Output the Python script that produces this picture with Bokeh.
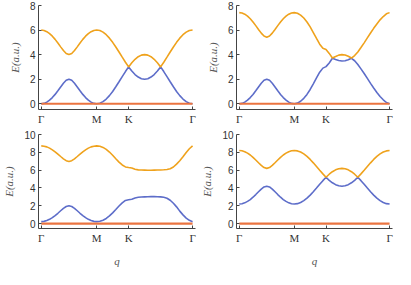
from bokeh.plotting import figure
from bokeh.layouts import gridplot
from bokeh.models import FixedTicker, Range1d
from bokeh.embed import file_html
from bokeh.resources import INLINE

# high-symmetry path positions and labels
TICK_POS = [0.0, 1.0, 1.577, 2.732]
TICK_LABELS = ["Γ", "M", "K", "Γ"]

# sampled path coordinate q
Q = [0.00, 0.05, 0.10, 0.15, 0.20, 0.25, 0.30, 0.35, 0.40, 0.45, 0.50,
     0.55, 0.60, 0.65, 0.70, 0.75, 0.80, 0.85, 0.90, 0.95, 1.00,
     1.058, 1.115, 1.173, 1.231, 1.289, 1.346, 1.404, 1.462, 1.520, 1.577,
     1.635, 1.693, 1.751, 1.808, 1.866, 1.924, 1.981, 2.039, 2.097, 2.155,
     2.212, 2.270, 2.328, 2.386, 2.443, 2.501, 2.559, 2.617, 2.674, 2.732]

# flat band
FLAT_Q = [0.0, 2.732]
FLAT_E = [0.0, 0.0]

# panel (a) top-left
TL_BLUE = [0.00, 0.03, 0.13, 0.29, 0.50, 0.76, 1.06, 1.37, 1.67, 1.91, 2.00,
           1.91, 1.67, 1.37, 1.06, 0.76, 0.50, 0.29, 0.13, 0.03, 0.00,
           0.04, 0.17, 0.38, 0.66, 1.00, 1.38, 1.79, 2.21, 2.62, 3.00,
           2.66, 2.38, 2.17, 2.04, 2.00, 2.04, 2.17, 2.38, 2.66, 3.00,
           2.62, 2.21, 1.79, 1.38, 1.00, 0.66, 0.38, 0.17, 0.04, 0.00]
TL_ORANGE = [6.00, 5.97, 5.87, 5.71, 5.50, 5.24, 4.94, 4.63, 4.33, 4.09, 4.00,
             4.09, 4.33, 4.63, 4.94, 5.24, 5.50, 5.71, 5.87, 5.97, 6.00,
             5.96, 5.83, 5.62, 5.34, 5.00, 4.62, 4.21, 3.79, 3.38, 3.00,
             3.34, 3.62, 3.83, 3.96, 4.00, 3.96, 3.83, 3.62, 3.34, 3.00,
             3.38, 3.79, 4.21, 4.62, 5.00, 5.34, 5.62, 5.83, 5.96, 6.00]

# panel (b) top-right
TR_BLUE = [0.00, 0.03, 0.13, 0.29, 0.50, 0.76, 1.06, 1.37, 1.67, 1.91, 2.00,
           1.91, 1.67, 1.37, 1.06, 0.76, 0.50, 0.29, 0.13, 0.03, 0.00,
           0.05, 0.20, 0.44, 0.76, 1.16, 1.62, 2.10, 2.57, 2.90, 3.02,
           3.32, 3.70, 3.60, 3.52, 3.48, 3.50, 3.58, 3.70, 3.50, 3.20,
           2.84, 2.46, 2.06, 1.66, 1.28, 0.92, 0.59, 0.32, 0.10, 0.00]
TR_ORANGE = [7.42, 7.39, 7.29, 7.13, 6.92, 6.66, 6.36, 6.05, 5.75, 5.51, 5.42,
             5.51, 5.75, 6.05, 6.36, 6.66, 6.92, 7.13, 7.29, 7.39, 7.42,
             7.37, 7.22, 6.98, 6.66, 6.26, 5.80, 5.32, 4.85, 4.52, 4.42,
             4.10, 3.72, 3.84, 3.96, 4.00, 3.97, 3.87, 3.72, 3.92, 4.22,
             4.58, 4.96, 5.36, 5.76, 6.14, 6.50, 6.83, 7.10, 7.32, 7.42]

# panel (c) bottom-left
BL_BLUE = [0.22, 0.25, 0.34, 0.48, 0.67, 0.90, 1.16, 1.44, 1.71, 1.92, 2.00,
           1.92, 1.71, 1.44, 1.16, 0.90, 0.67, 0.48, 0.34, 0.25, 0.22,
           0.26, 0.38, 0.58, 0.86, 1.20, 1.58, 1.97, 2.32, 2.60, 2.68,
           2.74, 2.88, 2.95, 2.98, 3.00, 3.02, 3.03, 3.03, 3.02, 3.00,
           2.95, 2.85, 2.62, 2.28, 1.88, 1.40, 0.98, 0.62, 0.37, 0.22]
BL_ORANGE = [8.72, 8.69, 8.61, 8.47, 8.28, 8.06, 7.80, 7.53, 7.27, 7.06, 6.98,
             7.06, 7.27, 7.53, 7.80, 8.06, 8.28, 8.47, 8.61, 8.69, 8.72,
             8.68, 8.55, 8.33, 8.03, 7.67, 7.28, 6.90, 6.58, 6.36, 6.30,
             6.24, 6.10, 6.03, 6.01, 6.00, 5.99, 5.99, 6.00, 6.01, 6.02,
             6.04, 6.08, 6.15, 6.35, 6.68, 7.05, 7.50, 7.98, 8.40, 8.72]

# panel (d) bottom-right
BR_BLUE = [2.20, 2.23, 2.33, 2.49, 2.70, 2.96, 3.26, 3.57, 3.87, 4.11, 4.20,
           4.11, 3.87, 3.57, 3.26, 2.96, 2.70, 2.49, 2.33, 2.23, 2.20,
           2.24, 2.37, 2.58, 2.86, 3.20, 3.58, 3.99, 4.41, 4.82, 5.20,
           4.86, 4.58, 4.37, 4.24, 4.20, 4.24, 4.37, 4.58, 4.86, 5.20,
           4.82, 4.41, 3.99, 3.58, 3.20, 2.86, 2.58, 2.37, 2.24, 2.20]
BR_ORANGE = [8.20, 8.17, 8.07, 7.91, 7.70, 7.44, 7.14, 6.83, 6.53, 6.29, 6.20,
             6.29, 6.53, 6.83, 7.14, 7.44, 7.70, 7.91, 8.07, 8.17, 8.20,
             8.16, 8.03, 7.82, 7.54, 7.20, 6.82, 6.41, 5.99, 5.58, 5.20,
             5.54, 5.82, 6.03, 6.16, 6.20, 6.16, 6.03, 5.82, 5.54, 5.20,
             5.58, 5.99, 6.41, 6.82, 7.20, 7.54, 7.82, 8.03, 8.16, 8.20]

TOP_YTICKS = [0, 2, 4, 6, 8]
BOT_YTICKS = [0, 2, 4, 6, 8, 10]

BLUE = "#5D6DC9"
ORANGE = "#EFA21C"
RED = "#EB7440"
AXIS = "#444444"


def panel(blue, orange, ylo, yhi, yticks, show_q, w, h, bl, br, bt, bb):
    p = figure(width=w, height=h, output_backend="svg", toolbar_location=None,
               x_range=Range1d(-0.05, 2.785), y_range=Range1d(ylo, yhi),
               min_border_left=bl, min_border_right=br,
               min_border_top=bt, min_border_bottom=bb)
    p.line(Q, blue, line_color=BLUE, line_width=1.6)
    p.line(Q, orange, line_color=ORANGE, line_width=1.6)
    p.line(FLAT_Q, FLAT_E, line_color=RED, line_width=2.2)
    p.grid.visible = False
    p.outline_line_color = None
    p.background_fill_color = "white"
    p.border_fill_color = "white"

    xa = p.xaxis[0]
    ya = p.yaxis[0]
    xa.ticker = FixedTicker(ticks=TICK_POS)
    xa.major_label_overrides = {t: l for t, l in zip(TICK_POS, TICK_LABELS)}
    ya.ticker = FixedTicker(ticks=yticks)
    for ax in (xa, ya):
        ax.axis_line_color = AXIS
        ax.axis_line_width = 1
        ax.major_tick_line_color = AXIS
        ax.major_tick_in = 3
        ax.major_tick_out = 0
        ax.minor_tick_line_color = None
        ax.major_label_text_color = "#333333"
    xa.major_label_text_font = "Liberation Serif"
    xa.major_label_text_font_size = "11px"
    xa.major_label_standoff = 3
    ya.major_label_text_font = "Liberation Sans"
    ya.major_label_text_font_size = "10px"
    ya.major_label_standoff = 3
    ya.axis_label = "E(a.u.)"
    ya.axis_label_text_font = "Liberation Serif"
    ya.axis_label_text_font_style = "italic"
    ya.axis_label_text_font_size = "11px"
    ya.axis_label_text_color = "#555555"
    ya.axis_label_standoff = 6
    if show_q:
        xa.axis_label = "q"
        xa.axis_label_text_font = "Liberation Serif"
        xa.axis_label_text_font_style = "italic"
        xa.axis_label_text_font_size = "11px"
        xa.axis_label_text_color = "#555555"
        xa.axis_label_standoff = 8
    return p


p1 = panel(TL_BLUE, TL_ORANGE, -0.47, 8.0001, TOP_YTICKS, False, 198, 129, 29, 3, 5, 20)
p2 = panel(TR_BLUE, TR_ORANGE, -0.47, 8.0001, TOP_YTICKS, False, 197, 129, 29, 3, 5, 20)
p3 = panel(BL_BLUE, BL_ORANGE, -0.55, 10.0001, BOT_YTICKS, True, 198, 140, 34, 3, 5, 36)
p4 = panel(BR_BLUE, BR_ORANGE, -0.55, 10.0001, BOT_YTICKS, True, 197, 140, 35, 3, 5, 36)

grid = gridplot([[p1, p2], [p3, p4]], toolbar_location=None)

open("out.html", "w").write(file_html(grid, INLINE))
